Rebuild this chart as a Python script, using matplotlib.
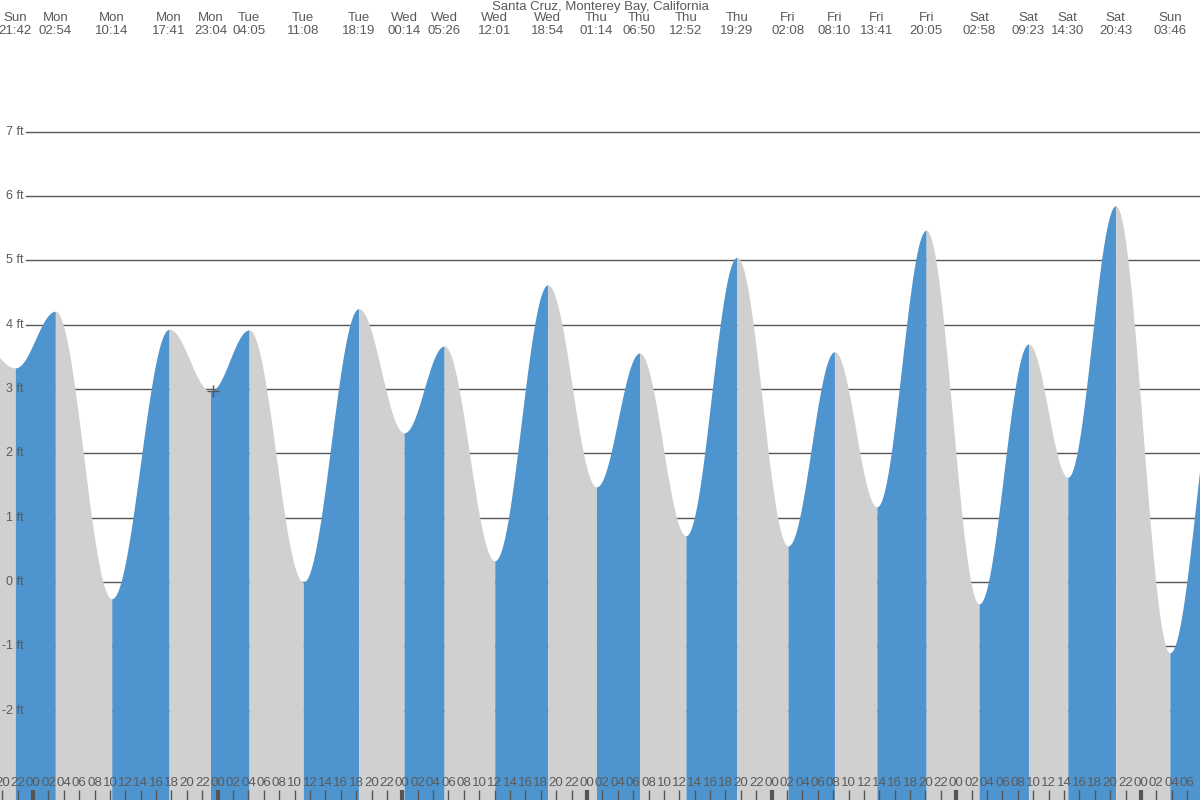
import numpy as np
import matplotlib
matplotlib.use("Agg")
import matplotlib.pyplot as plt

# Extremes de marée (jour, heure, hauteur en ft)
jours = ["Sun", "Mon", "Mon", "Mon", "Mon", "Tue", "Tue", "Tue", "Wed", "Wed", "Wed", "Wed",
         "Thu", "Thu", "Thu", "Thu", "Fri", "Fri", "Fri", "Fri", "Sat", "Sat", "Sat", "Sat", "Sun"]
heures = ["21:42", "02:54", "10:14", "17:41", "23:04", "04:05", "11:08", "18:19", "00:14", "05:26",
          "12:01", "18:54", "01:14", "06:50", "12:52", "19:29", "02:08", "08:10", "13:41", "20:05",
          "02:58", "09:23", "14:30", "20:43", "03:46"]
hauteurs = [3.33, 4.21, -0.26, 3.93, 2.97, 3.92, 0.0, 4.25, 2.32, 3.67, 0.33, 4.62,
            1.48, 3.56, 0.72, 5.05, 0.56, 3.58, 1.17, 5.47, -0.34, 3.70, 1.63, 5.85, -1.10]
# extremes hors cadre (avant et après)
avant = ("Sun", "16:00", 3.9)
apres = ("Sun", "10:30", 3.5)

titre = "Santa Cruz, Monterey Bay, California"
niveaux = [7, 6, 5, 4, 3, 2, 1, 0, -1, -2]

index_jour = {"Sun": -1, "Mon": 0, "Tue": 1, "Wed": 2, "Thu": 3, "Fri": 4, "Sat": 5}


def en_heures(j, hm, fin=False):
    d = index_jour[j]
    if j == "Sun" and fin:
        d = 6
    hh, mm = hm.split(":")
    return d * 24 + int(hh) + int(mm) / 60


t_ext = [en_heures(j, h, fin=(i == len(jours) - 1)) for i, (j, h) in enumerate(zip(jours, heures))]
t_all = [en_heures(avant[0], avant[1])] + t_ext + [en_heures(apres[0], apres[1], fin=True)]
h_all = [avant[2]] + hauteurs + [apres[2]]

x0, x1 = -4.29, 151.68
y0, y1 = -3.39, 9.05
bleu = "#4e94ce"
gris = "#d0d0d0"
texte = "#5a5a5a"

fig = plt.figure(figsize=(12, 8), dpi=100)
ax = fig.add_axes([0, 0, 1, 1])
ax.set_xlim(x0, x1)
ax.set_ylim(y0, y1)
ax.axis("off")

# lignes de niveau derrière le remplissage
for n in niveaux:
    ax.axhline(n, xmin=26 / 1200, xmax=1, color="#555555", lw=1, zorder=1)
    ax.text(x0 + 24 / 7.694, n, f"{n} ft", ha="right", va="center",
            fontsize=9, color=texte, family="Liberation Sans", zorder=4)

# courbe cosinus entre extremes
for i in range(len(t_all) - 1):
    ta, tb = t_all[i], t_all[i + 1]
    ha, hb = h_all[i], h_all[i + 1]
    t = np.linspace(ta, tb, 200)
    f = (t - ta) / (tb - ta)
    h = ha + (hb - ha) * (1 - np.cos(np.pi * f)) / 2
    couleur = bleu if hb > ha else gris
    ax.fill_between(t, y0 - 1, h, color=couleur, lw=0, zorder=2)

# titre et étiquettes des extremes
ax.text(0.5, 1 - 7 / 800, titre, transform=ax.transAxes, ha="center", va="center",
        fontsize=9.5, color=texte, family="Liberation Sans")
for j, hm, t in zip(jours, heures, t_ext):
    ax.text(t, y1 - 18 * (y1 - y0) / 800, j, ha="center", va="center",
            fontsize=9.5, color=texte, family="Liberation Sans")
    ax.text(t, y1 - 31 * (y1 - y0) / 800, hm, ha="center", va="center",
            fontsize=9.5, color=texte, family="Liberation Sans")

# graduations horaires en bas
px = (y1 - y0) / 800
for hr in range(-4, 152, 2):
    minuit = hr % 24 == 0
    ax.plot([hr, hr], [y0, y0 + 10 * px], color="#555555", lw=3 if minuit else 1,
            zorder=3, solid_capstyle="butt")
    ax.text(hr, y0 + 17 * px, f"{hr % 24:02d}", ha="center", va="center",
            fontsize=9.5, color=texte, family="Liberation Sans", zorder=4)

# marqueur "maintenant"
ax.plot([23.39], [2.97], marker="+", color="#555555", ms=9, mew=1, zorder=5)

fig.savefig("out.png", dpi=100)
